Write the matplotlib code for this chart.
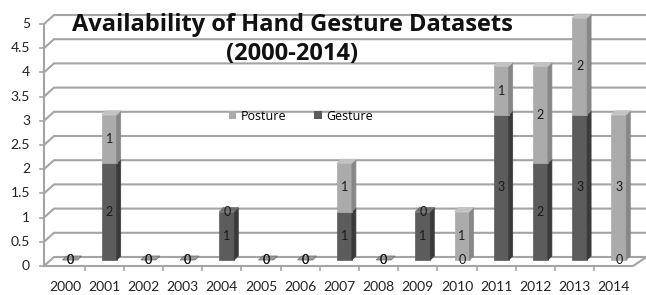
import matplotlib
matplotlib.use("Agg")
import matplotlib.pyplot as plt
from matplotlib.patches import Polygon, Patch
import numpy as np

years = ["2000", "2001", "2002", "2003", "2004", "2005", "2006", "2007",
         "2008", "2009", "2010", "2011", "2012", "2013", "2014"]
gesture = [0, 2, 0, 0, 1, 0, 0, 1, 0, 1, 0, 3, 2, 3, 0]
posture = [0, 1, 0, 0, 0, 0, 0, 1, 0, 0, 1, 1, 2, 2, 3]
yticks = [0, 0.5, 1, 1.5, 2, 2.5, 3, 3.5, 4, 4.5, 5]
ytick_labels = ["0", "0.5", "1", "1.5", "2", "2.5", "3", "3.5", "4", "4.5", "5"]
title1 = "Availability of Hand Gesture Datasets"
title2 = "(2000-2014)"

plt.rcParams['font.family'] = ['Lato', 'DejaVu Sans']

W, H = 646, 295
fig = plt.figure(figsize=(W / 100, H / 100), dpi=100)
fig.patch.set_facecolor("white")

# axes geometry (pixels)
px_per_cat = 39.2
x0_px = 65.0           # pixel of first category
ax_left_px, ax_right_px = 44, 646
y0_px, y5_px = 266, 24
xl = (ax_left_px - x0_px) / px_per_cat
xr = (ax_right_px - x0_px) / px_per_cat
ax = fig.add_axes([ax_left_px / W, 1 - y0_px / H,
                   (ax_right_px - ax_left_px) / W, (y0_px - y5_px) / H])
ax.set_xlim(xl, xr)
ax.set_ylim(0, 5)
ax.axis("off")

ux = 1 / px_per_cat
uy = 5 / (y0_px - y5_px)

grid_c = "#a4a4a4"
# back-wall depth
ddx, ddy = 10 * ux, 9 * uy
for v, lab in zip(yticks, ytick_labels):
    ax.plot([xl, xl + ddx, xr + 1], [v, v + ddy, v + ddy], color=grid_c,
            lw=1.5, clip_on=False, solid_capstyle="butt", zorder=1)
    ax.plot([xl - 4 * ux, xl], [v, v], color=grid_c, lw=1.2, clip_on=False, zorder=1)
    ax.text(xl - 14 * ux, v, lab, ha="right", va="center",
            fontsize=10, color="#222222", clip_on=False)
# front axis
ax.plot([xl, xl], [0, 5], color=grid_c, lw=1.5, clip_on=False, zorder=1)
# floor front line + right slant
n = len(years)
xend = n - 1 + 0.5 - 0.01
ax.plot([xl, xend, xend + 12 * ux], [0, 0, 8 * uy], color=grid_c, lw=1.5,
        clip_on=False, zorder=1)
for i in range(n - 1):
    ax.plot([i + 0.5, i + 0.5], [0, -4 * uy], color=grid_c, lw=1.2, clip_on=False)
for i, yr in enumerate(years):
    ax.text(i, -15 * uy, yr, ha="center", va="top", fontsize=10, color="#222222",
            clip_on=False)

# bars
bw = 15 * ux
boff_x, boff_y = 5 * ux, 6 * uy
bdx, bdy = 4 * ux, 4 * uy
series = [("Gesture", gesture, "#5c5c5c", "#3a3a3a", "#6e6e6e"),
          ("Posture", posture, "#ababab", "#878787", "#c2c2c2")]


def add_poly(pts, fc, z, ec=None):
    ax.add_patch(Polygon(pts, closed=True, facecolor=fc, edgecolor=ec or fc, lw=0.5,
                         zorder=z, clip_on=False))


for i in range(n):
    left = i + boff_x - bw / 2
    right = left + bw
    base = boff_y
    total = gesture[i] + posture[i]
    for k, (name, vals, fc, sc, tc) in enumerate(series):
        h = vals[i]
        if h > 0:
            y1, y2 = base, base + h
            add_poly([(left, y1), (right, y1), (right, y2), (left, y2)], fc, 3)
            add_poly([(right, y1), (right + bdx, y1 + bdy), (right + bdx, y2 + bdy),
                      (right, y2)], sc, 3)
        ax.text(left + bw / 2, base + h / 2, str(h), ha="center", va="center",
                fontsize=9, color="#1a1a1a", zorder=5)
        base += h
    top = base
    if total == 0:
        add_poly([(left, top), (right, top), (right + bdx, top + bdy),
                  (left + bdx, top + bdy)], "#9a9a9a", 4, ec="#6a6a6a")
    else:
        topc = series[1][4] if posture[i] > 0 else series[0][4]
        add_poly([(left, top), (right, top), (right + bdx, top + bdy),
                  (left + bdx, top + bdy)], topc, 4)

# titles
fig.text(292 / W, 1 - 31 / H, title1, ha="center", va="baseline", fontsize=17,
         fontweight="bold", color="#111111", family=["Open Sans", "DejaVu Sans"])
fig.text(292 / W, 1 - 60 / H, title2, ha="center", va="baseline", fontsize=17,
         fontweight="bold", color="#111111", family=["Open Sans", "DejaVu Sans"])

handles = [Patch(facecolor="#ababab", edgecolor="none", label="Posture"),
           Patch(facecolor="#5c5c5c", edgecolor="none", label="Gesture")]
fig.legend(handles=handles, loc="center", bbox_to_anchor=(301 / W, 1 - 116 / H),
           ncol=2, frameon=False, handlelength=0.6, handleheight=0.6,
           handletextpad=0.4, columnspacing=2.2, borderpad=0,
           prop={"family": ["Open Sans", "DejaVu Sans"], "size": 9})

fig.savefig("out.png", dpi=100, facecolor="white")
